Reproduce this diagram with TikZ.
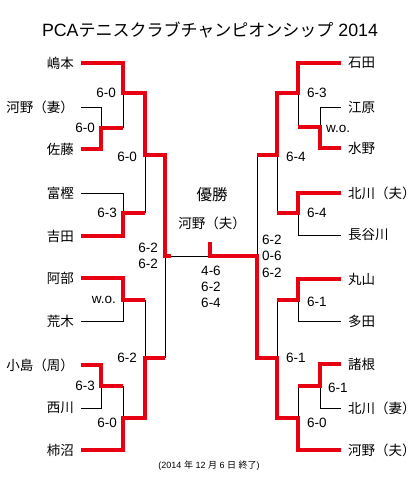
\documentclass[tikz,border=0pt]{standalone}
\usepackage{fontspec}
\setmainfont{Liberation Sans}
\newfontfamily\jp{Noto Sans CJK JP}
\usetikzlibrary{positioning}
\definecolor{winred}{RGB}{230,0,18}

\begin{document}
\begin{tikzpicture}[x=1pt, y=-1pt,
    win/.style={draw=winred, line width=3.6pt},
    lose/.style={draw=black, line width=0.8pt},
    lname/.style={anchor=east, inner xsep=7pt, inner ysep=0pt, font=\jp\fontsize{13.5}{15}\selectfont},
    rname/.style={anchor=west, inner xsep=7pt, inner ysep=0pt, font=\jp\fontsize{13.5}{15}\selectfont},
    lscore/.style={inner sep=0pt, align=right, font=\fontsize{13.5}{16.5}\selectfont},
    rscore/.style={inner sep=0pt, align=left, font=\fontsize{13.5}{16.5}\selectfont}]
    % canvas in pixels, y pointing down
    \useasboundingbox (0,0) rectangle (419,500);

    % Title
    \node (title) at (210,30) {\fontsize{17.8}{18}\selectfont PCA{\jp\fontsize{17}{17}\selectfont テニスクラブチャンピオンシップ} 2014};

    % Players, left half
    \node[lname] (L1) at (81,63) {嶋本};
    \node[lname] (L2) at (81,107) {河野（妻）};
    \node[lname] (L3) at (81,149) {佐藤};
    \node[lname] (L4) at (81,193) {富樫};
    \node[lname] (L5) at (81,236) {吉田};
    \node[lname] (L6) at (81,278) {阿部};
    \node[lname] (L7) at (81,321) {荒木};
    \node[lname] (L8) at (81,365) {小島（周）};
    \node[lname] (L9) at (81,408) {西川};
    \node[lname] (L10) at (81,450) {柿沼};

    % Players, right half
    \node[rname] (R1) at (341,63) {石田};
    \node[rname] (R2) at (341,107) {江原};
    \node[rname] (R3) at (341,148) {水野};
    \node[rname] (R4) at (341,193) {北川（夫）};
    \node[rname] (R5) at (341,235) {長谷川};
    \node[rname] (R6) at (341,279) {丸山};
    \node[rname] (R7) at (341,321) {多田};
    \node[rname] (R8) at (341,364) {諸根};
    \node[rname] (R9) at (341,408) {北川（妻）};
    \node[rname] (R10) at (341,450) {河野（夫）};

    % Match points
    \coordinate (m1) at (101,128);
    \coordinate (m2) at (123,93);
    \coordinate (m3) at (123,213);
    \coordinate (m4) at (145,155);
    \coordinate (m5) at (123,300);
    \coordinate (m6) at (101,386);
    \coordinate (m7) at (123,418);
    \coordinate (m8) at (145,358);
    \coordinate (m9) at (165,256);
    \coordinate (n1) at (320,127);
    \coordinate (n2) at (298,93);
    \coordinate (n3) at (298,213);
    \coordinate (n4) at (277,155);
    \coordinate (n5) at (298,300);
    \coordinate (n6) at (320,386);
    \coordinate (n7) at (298,418);
    \coordinate (n8) at (277,358);
    \coordinate (n9) at (257,256);
    \coordinate (fin) at (210,256);
    \coordinate (top) at (210,242);

    % Losing lines
    \draw[lose] (L2.east) -| (m1);
    \draw[lose] (L4.east) -| (m3);
    \draw[lose] (L7.east) -| (m5);
    \draw[lose] (L9.east) -| (m6);
    \draw[lose] (m2) -- (m2 |- m1);
    \draw[lose] (m4) -- (m4 |- m3);
    \draw[lose] (m8) -- (m8 |- m5);
    \draw[lose] (m7) -- (m7 |- m6);
    \draw[lose] (m9) -- (m9 |- m8);
    \draw[lose] (R2.west) -| (n1);
    \draw[lose] (R5.west) -| (n3);
    \draw[lose] (R7.west) -| (n5);
    \draw[lose] (R9.west) -| (n6);
    \draw[lose] (n2) -- (n2 |- n1);
    \draw[lose] (n4) -- (n4 |- n3);
    \draw[lose] (n8) -- (n8 |- n5);
    \draw[lose] (n7) -- (n7 |- n6);
    \draw[lose] (n9) -- (n9 |- n4);
    \draw[lose] (m9) -- (n9);

    % Winning lines
    \draw[win] (L1.east) -| (m2) -| (m4) -| (m9) -- ++(6,0);
    \draw[win] (L3.east) -| (m1) -- (m1 -| m2);
    \draw[win] (L5.east) -| (m3) -- (m3 -| m4);
    \draw[win] (L6.east) -| (m5) -- (m5 -| m8);
    \draw[win] (L8.east) -| (m6) -- (m6 -| m7);
    \draw[win] (L10.east) -| (m7) -| (m8) -- (m8 -| m9);
    \draw[win] (R1.west) -| (n2) -| (n4) -- (n4 -| n9);
    \draw[win] (R3.west) -| (n1) -- (n1 -| n2);
    \draw[win] (R4.west) -| (n3) -- (n3 -| n4);
    \draw[win] (R6.west) -| (n5) -- (n5 -| n8);
    \draw[win] (R8.west) -| (n6) -- (n6 -| n7);
    \draw[win] (R10.west) -| (n7) -| (n8) -| (n9) -| (top);

    % Scores, left half
    \node[lscore, left=7pt of m2] (s2) {6-0};
    \node[lscore, left=6pt of m1] (s1) {6-0};
    \node[lscore, left=8pt of m4, yshift=-2pt] (s4) {6-0};
    \node[lscore, left=6pt of m3] (s3) {6-3};
    \node[lscore, left=7pt of m9] (s9) {6-2\\6-2};
    \node[lscore, left=7pt of m5] (s5) {w.o.};
    \node[lscore, left=8pt of m8] (s8) {6-2};
    \node[lscore, left=6pt of m6] (s6) {6-3};
    \node[lscore, left=6pt of m7, yshift=-5pt] (s7) {6-0};

    % Scores, right half
    \node[rscore, right=9pt of n2] (t2) {6-3};
    \node[rscore, right=6pt of n1, yshift=-2pt] (t1) {w.o.};
    \node[rscore, right=9pt of n4, yshift=-2pt] (t4) {6-4};
    \node[rscore, right=9pt of n3] (t3) {6-4};
    \node[rscore, right=5pt of n9] (t9) {6-2\\0-6\\6-2};
    \node[rscore, right=9pt of n5, yshift=-2pt] (t5) {6-1};
    \node[rscore, right=9pt of n8] (t8) {6-1};
    \node[rscore, right=8pt of n6, yshift=-2pt] (t6) {6-1};
    \node[rscore, right=9pt of n7, yshift=-5pt] (t7) {6-0};

    % Champion and final
    \node[font=\jp\fontsize{15.5}{15.5}\selectfont] (champ) at (212,195) {優勝};
    \node[font=\jp\fontsize{13.5}{15}\selectfont] (winner) at (212,223) {河野（夫）};
    \node[inner sep=0pt, align=center, font=\fontsize{13.5}{16}\selectfont] (final) at (211,287) {4-6\\6-2\\6-4};

    % Date
    \node[font=\fontsize{9}{9}\selectfont] (date) at (209,466) {(2014 {\jp 年} 12 {\jp 月} 6 {\jp 日} {\jp 終了})};
\end{tikzpicture}
\end{document}
